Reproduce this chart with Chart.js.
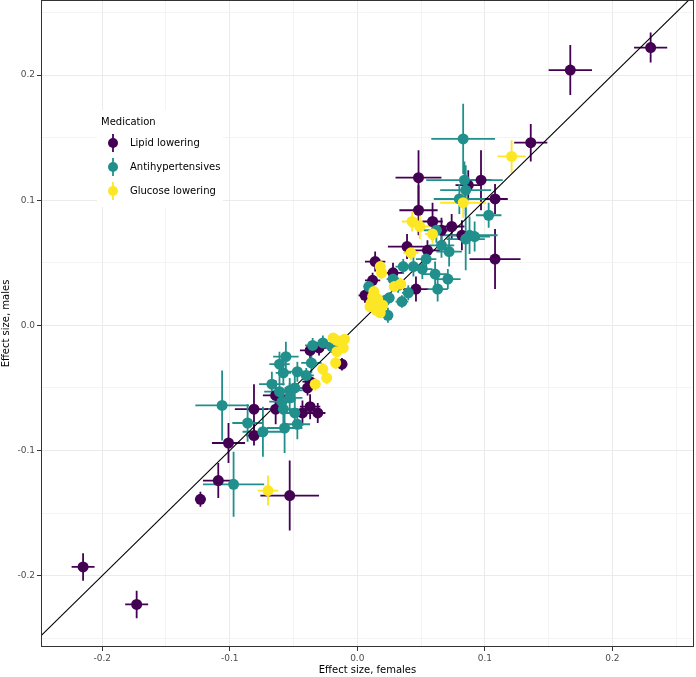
<!DOCTYPE html>
<html>
<head>
<meta charset="utf-8">
<script src="https://cdn.jsdelivr.net/npm/chart.js@4.4.1/dist/chart.umd.min.js"></script>
<style>
  body { margin: 0; background: #fff; }
</style>
</head>
<body>
<canvas id="effectChart" width="696" height="677"></canvas>
<script>
// Lipid lowering: effect in females (x), males (y), and their errors
var lipidX = [0.230, 0.167, 0.136, 0.048, 0.097, 0.108, 0.048, 0.108, 0.074, 0.087, 0.059, 0.082, 0.039, 0.055, 0.014, 0.012, 0.006, 0.046, 0.028, 0.066, -0.215, -0.173, -0.123, -0.109, -0.101, -0.053, -0.081, -0.081, -0.064, -0.037, -0.031, -0.043, -0.064, -0.037, -0.037, -0.039, -0.012, -0.030];
var lipidY = [0.222, 0.204, 0.146, 0.118, 0.116, 0.101, 0.092, 0.053, 0.079, 0.112, 0.083, 0.072, 0.063, 0.060, 0.051, 0.036, 0.024, 0.029, 0.042, 0.076, -0.193, -0.223, -0.139, -0.124, -0.094, -0.136, -0.067, -0.088, -0.067, -0.065, -0.070, -0.070, -0.056, -0.045, -0.020, -0.050, -0.031, -0.018];
var lipidXErr = [0.013, 0.017, 0.013, 0.018, 0.008, 0.010, 0.015, 0.020, 0.010, 0.010, 0.008, 0.008, 0.015, 0.010, 0.008, 0.006, 0.005, 0.010, 0.008, 0.008, 0.009, 0.009, 0.004, 0.012, 0.013, 0.023, 0.015, 0.006, 0.008, 0.008, 0.006, 0.008, 0.010, 0.006, 0.008, 0.006, 0.004, 0.006];
var lipidYErr = [0.012, 0.020, 0.015, 0.022, 0.024, 0.012, 0.020, 0.024, 0.010, 0.012, 0.015, 0.012, 0.010, 0.008, 0.008, 0.006, 0.006, 0.010, 0.008, 0.010, 0.011, 0.011, 0.006, 0.014, 0.016, 0.028, 0.020, 0.008, 0.012, 0.010, 0.008, 0.010, 0.012, 0.008, 0.006, 0.006, 0.005, 0.006];

// Antihypertensives
var antiX = [0.083, 0.084, 0.085, 0.080, 0.103, 0.088, 0.092, 0.085, 0.062, 0.066, 0.072, 0.054, 0.044, 0.051, 0.061, 0.071, 0.063, 0.036, 0.040, 0.024, 0.028, 0.009, 0.032, 0.025, 0.035, 0.022, -0.106, -0.056, -0.061, -0.058, -0.047, -0.067, -0.061, -0.053, -0.049, -0.053, -0.058, -0.049, -0.086, -0.074, -0.057, -0.047, -0.036, -0.035, -0.027, -0.097, -0.020, -0.040, -0.059];
var antiY = [0.149, 0.116, 0.108, 0.101, 0.088, 0.072, 0.071, 0.069, 0.076, 0.064, 0.059, 0.053, 0.047, 0.045, 0.041, 0.037, 0.029, 0.047, 0.026, 0.008, 0.037, 0.031, 0.032, 0.022, 0.019, 0.020, -0.064, -0.025, -0.031, -0.038, -0.037, -0.047, -0.053, -0.052, -0.050, -0.058, -0.067, -0.070, -0.078, -0.085, -0.082, -0.079, -0.030, -0.016, -0.014, -0.127, -0.017, -0.040, -0.061];
var antiXErr = [0.025, 0.030, 0.020, 0.020, 0.010, 0.022, 0.012, 0.015, 0.010, 0.010, 0.010, 0.008, 0.006, 0.008, 0.010, 0.010, 0.008, 0.006, 0.005, 0.004, 0.005, 0.004, 0.006, 0.004, 0.005, 0.004, 0.021, 0.010, 0.008, 0.006, 0.008, 0.010, 0.012, 0.010, 0.008, 0.010, 0.012, 0.010, 0.012, 0.016, 0.014, 0.010, 0.008, 0.006, 0.006, 0.024, 0.005, 0.006, 0.010];
var antiYErr = [0.028, 0.015, 0.020, 0.012, 0.010, 0.015, 0.012, 0.025, 0.010, 0.010, 0.012, 0.008, 0.008, 0.008, 0.010, 0.008, 0.010, 0.006, 0.006, 0.006, 0.005, 0.004, 0.006, 0.004, 0.005, 0.004, 0.028, 0.012, 0.010, 0.010, 0.008, 0.010, 0.012, 0.010, 0.010, 0.012, 0.015, 0.012, 0.015, 0.020, 0.020, 0.012, 0.008, 0.006, 0.006, 0.026, 0.005, 0.006, 0.010];

// Glucose lowering
var glucX = [0.121, 0.083, 0.043, 0.049, 0.059, 0.042, 0.018, 0.019, 0.029, 0.034, 0.012, 0.011, 0.015, 0.018, 0.010, 0.016, 0.013, 0.020, -0.016, -0.010, -0.016, -0.011, -0.017, -0.027, -0.024, -0.033, -0.070, -0.019];
var glucY = [0.135, 0.098, 0.083, 0.079, 0.073, 0.058, 0.047, 0.042, 0.031, 0.033, 0.023, 0.018, 0.012, 0.010, 0.015, 0.021, 0.027, 0.016, -0.012, -0.011, -0.021, -0.018, -0.030, -0.035, -0.042, -0.047, -0.132, -0.010];
var glucXErr = [0.011, 0.018, 0.008, 0.008, 0.006, 0.006, 0.004, 0.004, 0.004, 0.004, 0.003, 0.003, 0.003, 0.003, 0.003, 0.003, 0.003, 0.003, 0.003, 0.003, 0.003, 0.003, 0.004, 0.004, 0.004, 0.004, 0.008, 0.003];
var glucYErr = [0.013, 0.012, 0.008, 0.010, 0.008, 0.006, 0.006, 0.005, 0.004, 0.005, 0.004, 0.004, 0.004, 0.004, 0.004, 0.004, 0.004, 0.004, 0.004, 0.004, 0.004, 0.004, 0.005, 0.005, 0.005, 0.005, 0.012, 0.004];

// identity line ends
var diagonal = [-0.3, 0.3];

var seriesNames = ["Lipid lowering", "Antihypertensives", "Glucose lowering"];
var seriesColors = ["#440154", "#21908C", "#FDE725"];

function toPoints(xs, ys) {
    return xs.map(function (x, i) { return { x: x, y: ys[i] }; });
}

function isMajor(v) {
    return Math.abs(v * 10 - Math.round(v * 10)) < 1e-6;
}

var font = "'DejaVu Sans', sans-serif";

var errorBars = {
    id: 'errorBars',
    beforeDatasetsDraw: function (chart) {
        var ctx = chart.ctx, xs = chart.scales.x, ys = chart.scales.y, a = chart.chartArea;
        ctx.save();
        ctx.beginPath();
        ctx.rect(a.left, a.top, a.right - a.left, a.bottom - a.top);
        ctx.clip();
        ctx.lineWidth = 1.8;
        chart.data.datasets.forEach(function (ds) {
            if (!ds.xErr) return;
            ctx.strokeStyle = ds.backgroundColor;
            ds.data.forEach(function (p, i) {
                var px = xs.getPixelForValue(p.x), py = ys.getPixelForValue(p.y);
                ctx.beginPath();
                ctx.moveTo(xs.getPixelForValue(p.x - ds.xErr[i]), py);
                ctx.lineTo(xs.getPixelForValue(p.x + ds.xErr[i]), py);
                ctx.moveTo(px, ys.getPixelForValue(p.y - ds.yErr[i]));
                ctx.lineTo(px, ys.getPixelForValue(p.y + ds.yErr[i]));
                ctx.stroke();
            });
        });
        ctx.restore();
    },
    afterDraw: function (chart) {
        var ctx = chart.ctx, a = chart.chartArea;
        ctx.save();
        // panel border
        ctx.strokeStyle = '#333333';
        ctx.lineWidth = 1;
        ctx.strokeRect(Math.round(a.left) + 0.5, Math.round(a.top) + 0.5, Math.round(a.right - a.left) - 1, Math.round(a.bottom - a.top) - 1);

        // legend inside the panel
        var lx = 97, ly = 110;
        ctx.fillStyle = '#ffffff';
        ctx.fillRect(lx, ly, 126, 97);
        ctx.fillStyle = '#000000';
        ctx.font = "10px " + font;
        ctx.textBaseline = 'middle';
        ctx.textAlign = 'left';
        ctx.fillText('Medication', lx + 4, ly + 12);
        seriesNames.forEach(function (name, i) {
            var cy = ly + 33 + i * 24, cx = lx + 16;
            ctx.strokeStyle = seriesColors[i];
            ctx.lineWidth = 1.8;
            ctx.beginPath();
            ctx.moveTo(cx, cy - 9);
            ctx.lineTo(cx, cy + 9);
            ctx.stroke();
            ctx.fillStyle = seriesColors[i];
            ctx.beginPath();
            ctx.arc(cx, cy, 5, 0, Math.PI * 2);
            ctx.fill();
            ctx.fillStyle = '#000000';
            ctx.fillText(name, lx + 33, cy);
        });
        ctx.restore();
    }
};

function scatterSet(i, xs, ys, xe, ye, order) {
    return {
        type: 'scatter',
        label: seriesNames[i],
        data: toPoints(xs, ys),
        xErr: xe,
        yErr: ye,
        backgroundColor: seriesColors[i],
        borderWidth: 0,
        pointRadius: 5.5,
        order: order
    };
}

function axis(title, min, max, vertical) {
    return {
        type: 'linear',
        min: min,
        max: max,
        ticks: {
            stepSize: 0.05,
            includeBounds: false,
            autoSkip: false,
            maxRotation: 0,
            color: '#4d4d4d',
            padding: 2,
            font: { family: font, size: 9 },
            callback: function (v) { return isMajor(v) ? v.toFixed(1) : ''; }
        },
        grid: {
            color: function (c) { return isMajor(c.tick.value) ? '#ebebeb' : '#f4f4f4'; },
            lineWidth: 1,
            tickLength: 4,
            tickColor: function (c) { return isMajor(c.tick.value) ? '#333333' : 'rgba(0,0,0,0)'; }
        },
        border: { display: false },
        title: {
            display: true,
            text: title,
            color: '#000000',
            font: { family: font, size: 10 },
            padding: { top: 0, bottom: vertical ? 3 : 1 }
        },
        afterFit: function (s) {
            if (vertical) s.width = 41; else s.height = 30;
            s.paddingTop = s.paddingBottom = s.paddingLeft = s.paddingRight = 0;
        }
    };
}

var ctx = document.getElementById("effectChart");

var effectChart = new Chart(ctx, {
    data: {
        datasets: [
            scatterSet(0, lipidX, lipidY, lipidXErr, lipidYErr, 3),
            scatterSet(1, antiX, antiY, antiXErr, antiYErr, 2),
            scatterSet(2, glucX, glucY, glucXErr, glucYErr, 1),
            {
                type: 'line',
                data: toPoints(diagonal, diagonal),
                borderColor: '#000000',
                borderWidth: 1.1,
                pointRadius: 0,
                order: 4
            }
        ]
    },
    options: {
        responsive: false,
        animation: false,
        devicePixelRatio: 1,
        layout: { autoPadding: false, padding: { top: 0, right: 2, bottom: 0, left: 0 } },
        plugins: {
            legend: { display: false },
            tooltip: { enabled: false }
        },
        scales: {
            x: axis('Effect size, females', -0.248, 0.264, false),
            y: axis('Effect size, males', -0.257, 0.260, true)
        }
    },
    plugins: [errorBars]
});
</script>
</body>
</html>
